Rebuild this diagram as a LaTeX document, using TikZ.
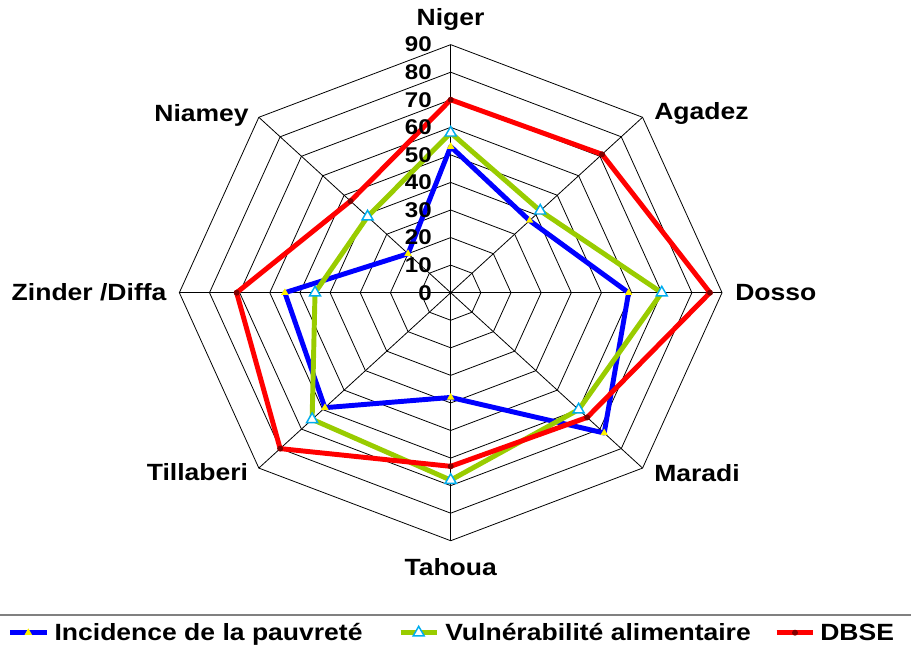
\documentclass[tikz,border=0pt]{standalone}
\usepackage{fontspec}
\newfontfamily\chartfont{Liberation Sans}[FakeStretch=1.13]
\usetikzlibrary{shapes.geometric}
\definecolor{limegreen}{RGB}{153,204,0}
\definecolor{darkred}{RGB}{128,0,0}
\begin{document}
\begin{tikzpicture}
[x=0.75pt, y=0.75pt,
gridline/.style={draw=black, line width=0.6pt},
axislabel/.style={inner sep=0, font=\chartfont\bfseries\fontsize{17.6}{20}\selectfont},
ticklabel/.style={inner sep=0, anchor=east, font=\chartfont\bfseries\fontsize{16}{18}\selectfont},
legendtext/.style={inner sep=0, anchor=base west, font=\chartfont\bfseries\fontsize{17.6}{20}\selectfont},
poverty/.style={draw=blue, line width=3.7pt, line join=round},
vuln/.style={draw=limegreen, line width=3.7pt, line join=round},
dbse/.style={draw=red, line width=3.7pt, line join=round},
yellowtri/.style={regular polygon, regular polygon sides=3, fill=yellow, inner sep=0, minimum size=6.5pt},
cyantri/.style={regular polygon, regular polygon sides=3, draw=cyan, fill=white, line width=1.1pt, inner sep=0, minimum size=9.5pt},
reddot/.style={circle, fill=darkred, inner sep=0, minimum size=4.5pt}
]
\useasboundingbox (0,0) rectangle (911,645);

% radar grid and series
\begin{scope}[shift={(450.7,352.3)}, xscale=3.015, yscale=2.756]
\coordinate (o) at (0,0);
\foreach \r in {10,20,...,90}
  \draw[gridline] (0:\r) \foreach \a in {45,90,...,315} { -- (\a:\r) } -- cycle;
\foreach \a in {0,45,...,315} {
  \coordinate (v\a) at (\a:90);
  \draw[gridline] (o) -- (v\a);
}
% Incidence de la pauvrete
\foreach \a/\v [count=\i] in {90/53,45/37,0/59,-45/72,-90/38,-135/59,180/55,135/20}
  \coordinate (p\i) at (\a:\v);
\draw[poverty] (p1) -- (p2) -- (p3) -- (p4) -- (p5) -- (p6) -- (p7) -- (p8) -- cycle;
\foreach \i in {1,...,8} \node[yellowtri] (py\i) at (p\i) {};
% Vulnerabilite alimentaire
\foreach \a/\v [count=\i] in {90/58,45/42,0/70,-45/60,-90/68,-135/65,180/45,135/39}
  \coordinate (g\i) at (\a:\v);
\draw[vuln] (g1) -- (g2) -- (g3) -- (g4) -- (g5) -- (g6) -- (g7) -- (g8) -- cycle;
\foreach \i in {1,...,8} \node[cyantri] (gc\i) at (g\i) {};
% DBSE
\foreach \a/\v [count=\i] in {90/70,45/71,0/86,-45/64,-90/63,-135/80,180/71,135/47}
  \coordinate (d\i) at (\a:\v);
\draw[dbse] (d1) -- (d2) -- (d3) -- (d4) -- (d5) -- (d6) -- (d7) -- (d8) -- cycle;
\foreach \i in {1,...,8} \node[reddot] (dr\i) at (d\i) {};
\end{scope}

% scale numbers
\foreach \v in {0,10,...,90}
  \node[ticklabel] (t\v) at (432, 352.3+2.756*\v) {\v};

% axis names
\node[axislabel, anchor=base] (niger) at (450.5,619) {Niger};
\node[axislabel, anchor=base west] (agadez) at (654,525.7) {Agadez};
\node[axislabel, anchor=base west] (dosso) at (735,344) {Dosso};
\node[axislabel, anchor=base west] (maradi) at (654,163.3) {Maradi};
\node[axislabel, anchor=base] (tahoua) at (450.7,69) {Tahoua};
\node[axislabel, anchor=base east] (tillaberi) at (248.3,164.3) {Tillaberi};
\node[axislabel, anchor=base east] (zinder) at (166.7,344.3) {Zinder /Diffa};
\node[axislabel, anchor=base east] (niamey) at (249,523.3) {Niamey};

% legend
\coordinate (lgl) at (0,30);
\coordinate (lgr) at (911,30);
\draw[draw=gray, line width=1.5pt] (lgl) -- (lgr);
\coordinate (k1a) at (10,12.3);
\coordinate (k1m) at (28.3,12.3);
\coordinate (k1b) at (46.7,12.3);
\draw[poverty] (k1a) -- (k1b);
\node[yellowtri] (k1t) at (k1m) {};
\node[legendtext] (l1) at (54.3,4) {Incidence de la pauvreté};
\coordinate (k2a) at (400.7,12.3);
\coordinate (k2m) at (418.7,12.3);
\coordinate (k2b) at (436.7,12.3);
\draw[vuln] (k2a) -- (k2b);
\node[cyantri] (k2t) at (k2m) {};
\node[legendtext] (l2) at (445,4) {Vulnérabilité alimentaire};
\coordinate (k3a) at (776.7,12.3);
\coordinate (k3m) at (795,12.3);
\coordinate (k3b) at (813.3,12.3);
\draw[dbse] (k3a) -- (k3b);
\node[reddot] (k3t) at (k3m) {};
\node[legendtext] (l3) at (820,4) {DBSE};
\end{tikzpicture}
\end{document}
